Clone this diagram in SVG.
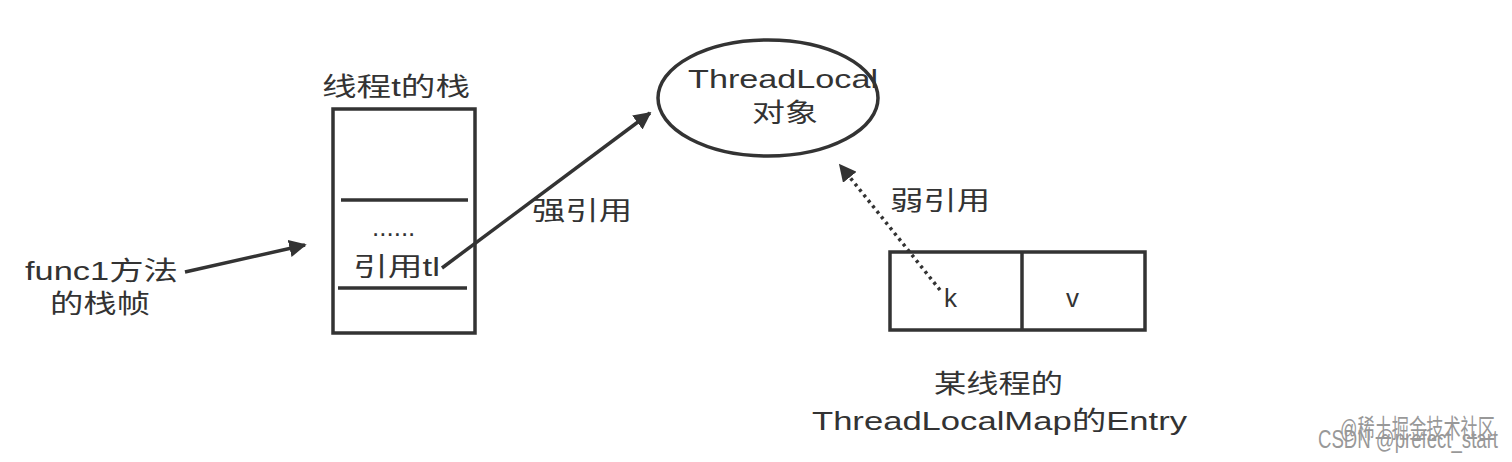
<svg xmlns="http://www.w3.org/2000/svg" width="1512" height="462" viewBox="0 0 1512 462">
<style>
text{font-family:"Liberation Sans","Noto Sans CJK SC",sans-serif;font-size:26px;fill:#333}
.b{fill:none;stroke:#333;stroke-width:3.5}
.c{stroke:#333;stroke-width:3.5;fill:none}
</style>
<defs><marker id="a" viewBox="0 0 10 10" refX="9" refY="5" markerWidth="5" markerHeight="5" orient="auto" markerUnits="strokeWidth"><path d="M0,0L10,5L0,10z" fill="#333"/></marker></defs>
<rect width="1512" height="462" fill="#fff"/>
<g id="stack"><text x="322" y="96" textLength="148" lengthAdjust="spacingAndGlyphs">线程t的栈</text><rect class="b" x="333" y="109" width="142" height="224"/><line class="c" x1="341" y1="200" x2="468" y2="200"/><line class="c" x1="338" y1="288" x2="467" y2="288"/><text x="372" y="236" font-size="20">......</text><text x="353" y="276" textLength="87" lengthAdjust="spacingAndGlyphs">引用tl</text></g>
<g id="func1"><text x="25" y="280" textLength="153" lengthAdjust="spacingAndGlyphs">func1方法</text><text x="50" y="313" textLength="100" lengthAdjust="spacingAndGlyphs">的栈帧</text></g>
<g id="tl"><ellipse class="b" cx="768" cy="98" rx="110" ry="58"/><text x="688" y="88" textLength="190" lengthAdjust="spacingAndGlyphs">ThreadLocal</text><text x="752" y="122" textLength="66" lengthAdjust="spacingAndGlyphs">对象</text></g>
<g id="entry"><rect class="b" x="890" y="252" width="255" height="78"/><line class="c" x1="1022" y1="252" x2="1022" y2="330"/><text x="944" y="307">k</text><text x="1066" y="307">v</text><text x="934" y="393" textLength="129" lengthAdjust="spacingAndGlyphs">某线程的</text><text x="812" y="430" textLength="375" lengthAdjust="spacingAndGlyphs">ThreadLocalMap的Entry</text></g>
<g id="connectors">
<line class="c" x1="185" y1="272" x2="305" y2="245" marker-end="url(#a)"/>
<line class="c" x1="442" y1="268" x2="650" y2="113" marker-end="url(#a)"/>
<text x="532" y="220" textLength="100" lengthAdjust="spacingAndGlyphs">强引用</text>
<line class="c" x1="940" y1="290" x2="840" y2="165" stroke-dasharray="3,4" marker-end="url(#a)"/>
<text x="890" y="210" textLength="100" lengthAdjust="spacingAndGlyphs">弱引用</text>
</g>
<g id="wm" opacity="0.5"><text x="1318" y="448" font-size="18" fill="#999" textLength="180" lengthAdjust="spacingAndGlyphs">CSDN @prefect_start</text><text x="1340" y="438" font-size="16" fill="#999" textLength="155" lengthAdjust="spacingAndGlyphs">@稀土掘金技术社区</text></g>
</svg>
